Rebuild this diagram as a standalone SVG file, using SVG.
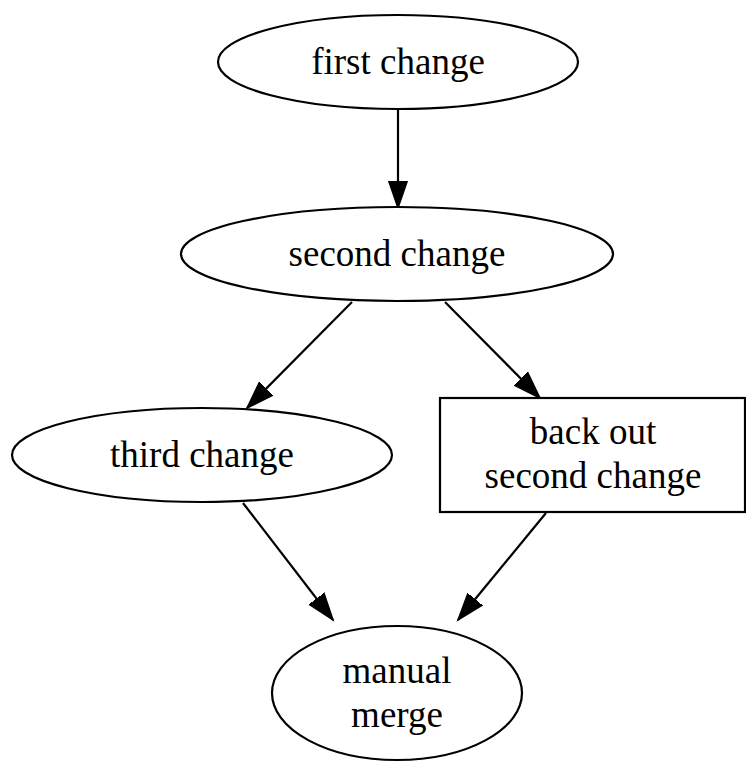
<svg xmlns="http://www.w3.org/2000/svg" width="746" height="762" viewBox="0 0 746 762">
<style>
.n{fill:#fff;stroke:#000;stroke-width:2.2}
.t{font-family:"Liberation Serif","Times New Roman",serif;font-size:37px;fill:#000;text-anchor:middle}
.e{fill:none;stroke:#000;stroke-width:2.2}
</style>
<defs>
<marker id="a" markerUnits="userSpaceOnUse" markerWidth="30" markerHeight="22" refX="27" refY="10" orient="auto" viewBox="0 0 30 20">
<path d="M0,0.7 L27,10 L0,19.3 Z" fill="#000" stroke="#000" stroke-width="1.5"/>
</marker>
</defs>
<rect width="746" height="762" fill="#fff"/>
<g id="edges">
<path class="e" d="M398,110 L398,208" marker-end="url(#a)"/>
<path class="e" d="M352,302 L247,408" marker-end="url(#a)"/>
<path class="e" d="M445,302 L540,398" marker-end="url(#a)"/>
<path class="e" d="M243,503 L333,620" marker-end="url(#a)"/>
<path class="e" d="M546,513 L458,620" marker-end="url(#a)"/>
</g>
<g id="first">
<ellipse class="n" cx="398" cy="62" rx="180" ry="47"/>
<text class="t" x="398" y="74">first change</text>
</g>
<g id="second">
<ellipse class="n" cx="397" cy="254" rx="216" ry="47"/>
<text class="t" x="397" y="266">second change</text>
</g>
<g id="third">
<ellipse class="n" cx="202" cy="455" rx="190" ry="47"/>
<text class="t" x="202" y="467">third change</text>
</g>
<g id="backout">
<rect class="n" x="440" y="398" width="305" height="114"/>
<text class="t" x="593" y="444">back out</text>
<text class="t" x="593" y="488">second change</text>
</g>
<g id="merge">
<ellipse class="n" cx="397" cy="693" rx="125" ry="67"/>
<text class="t" x="397" y="683">manual</text>
<text class="t" x="397" y="727">merge</text>
</g>
</svg>
